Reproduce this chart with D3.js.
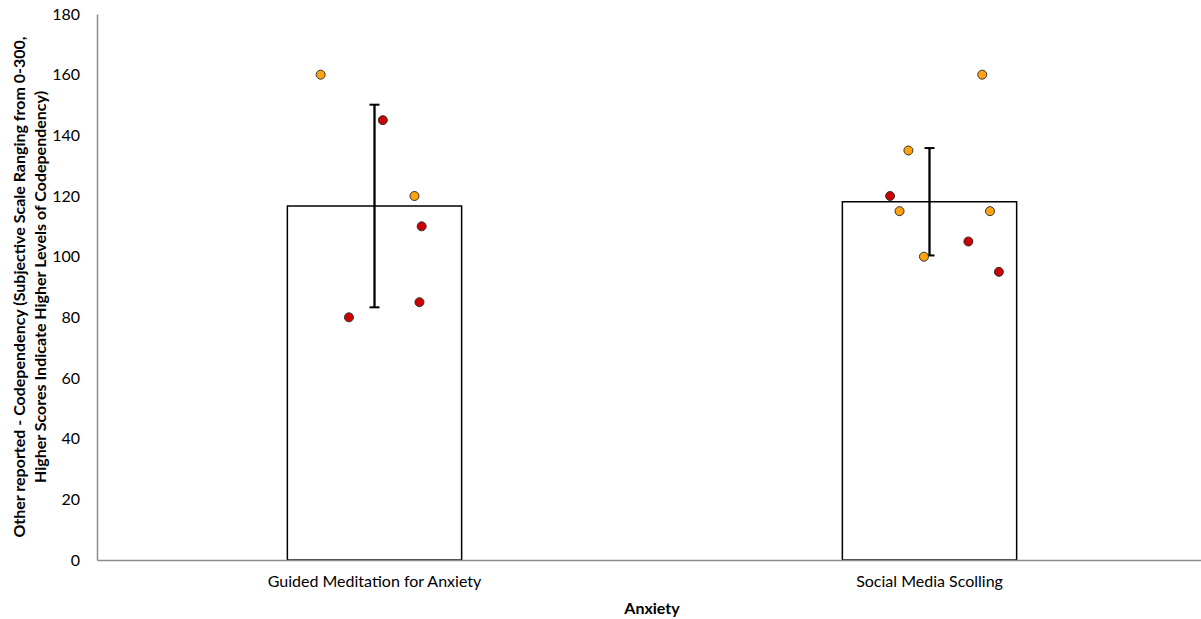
<!DOCTYPE html>
<html>
<head>
<meta charset="utf-8">
<script src="https://cdn.jsdelivr.net/npm/d3@7"></script>
<style>
  html, body { margin: 0; padding: 0; background: #fff; }
  svg { display: block; font-family: Lato, "Open Sans", sans-serif; }
</style>
</head>
<body>
<svg id="chart" width="1201" height="619"></svg>
<script>
// Conditions (x categories)
const categories = ["Guided Meditation for Anxiety", "Social Media Scolling"];
// Bar means and error half-widths
const means = [116.7, 118.1];
const errors = [33.4, 17.7];
// Individual participant scores per condition
const scoresMeditation = [160, 145, 120, 110, 85, 80];
const scoresScrolling = [160, 135, 120, 115, 115, 105, 100, 95];
// Point group (orange / red) per participant
const groupMeditation = ["a", "b", "a", "b", "b", "b"];
const groupScrolling = ["a", "a", "b", "a", "a", "b", "a", "b"];
// Horizontal jitter per point, as a fraction of the category band
const jitterMeditation = [-0.097, 0.015, 0.072, 0.085, 0.081, -0.046];
const jitterScrolling = [0.095, -0.038, -0.071, -0.054, 0.109, 0.070, -0.010, 0.125];
// Value axis ticks
const yTicks = [0, 20, 40, 60, 80, 100, 120, 140, 160, 180];

const svg = d3.select("#chart");
const plotLeft = 97, plotTop = 14, plotBottom = 560, plotRight = 1207;
const fontSize = 16;

const x = d3.scaleBand().domain(categories).range([plotLeft, plotRight])
  .paddingInner(0.686).paddingOuter(0.343);
const xCenter = d3.scaleBand().domain(categories).range([plotLeft, plotRight]).padding(0);
const y = d3.scaleLinear().domain([0, 180]).range([plotBottom, plotTop]);

const colour = d3.scaleOrdinal().domain(["a", "b"]).range(["#FFA20F", "#CC0000"]);

// Bars
svg.append("g").selectAll("rect").data(categories).join("rect")
  .attr("x", d => x(d))
  .attr("y", (d, i) => y(means[i]))
  .attr("width", x.bandwidth())
  .attr("height", (d, i) => y(0) - y(means[i]))
  .attr("fill", "#fff")
  .attr("stroke", "#000")
  .attr("stroke-width", 1.5);

// Error bars
const eb = svg.append("g").attr("stroke", "#000").attr("stroke-width", 2.3);
categories.forEach((c, i) => {
  const cx = xCenter(c) + xCenter.bandwidth() / 2;
  eb.append("line").attr("x1", cx).attr("x2", cx)
    .attr("y1", y(means[i] + errors[i])).attr("y2", y(means[i] - errors[i]));
  [means[i] + errors[i], means[i] - errors[i]].forEach(v => {
    eb.append("line").attr("x1", cx - 5).attr("x2", cx + 5)
      .attr("y1", y(v)).attr("y2", y(v)).attr("stroke-width", 2);
  });
});

// Axes
const yAxis = svg.append("g").attr("transform", `translate(${plotLeft},0)`)
  .call(d3.axisLeft(y).tickValues(yTicks).tickSize(0).tickPadding(17));
yAxis.select(".domain").attr("stroke", "#8c8c8c").attr("stroke-width", 1.5);
yAxis.selectAll("text").attr("font-size", fontSize).attr("fill", "#000")
  .attr("font-family", "Lato, sans-serif");

const xAxis = svg.append("g").attr("transform", `translate(0,${plotBottom})`)
  .call(d3.axisBottom(xCenter).tickSize(0).tickPadding(16));
xAxis.select(".domain").attr("stroke", "#8c8c8c").attr("stroke-width", 1.5);
xAxis.selectAll("text").attr("font-size", fontSize).attr("fill", "#000")
  .attr("font-family", "Lato, sans-serif");

// Points
const points = [
  { cat: categories[0], vals: scoresMeditation, grp: groupMeditation, jit: jitterMeditation },
  { cat: categories[1], vals: scoresScrolling, grp: groupScrolling, jit: jitterScrolling }
];
const pg = svg.append("g");
points.forEach(p => {
  const cx = xCenter(p.cat) + xCenter.bandwidth() / 2;
  pg.selectAll(null).data(p.vals).join("circle")
    .attr("cx", (d, i) => cx + p.jit[i] * xCenter.bandwidth())
    .attr("cy", d => y(d))
    .attr("r", 4.5)
    .attr("fill", (d, i) => colour(p.grp[i]))
    .attr("stroke", "#333")
    .attr("stroke-width", 1);
});

// Axis titles
svg.append("text")
  .attr("x", (plotLeft + plotRight) / 2).attr("y", 614)
  .attr("text-anchor", "middle")
  .attr("font-size", fontSize).attr("font-weight", "bold")
  .text("Anxiety");

const yTitle = svg.append("text")
  .attr("transform", `translate(0,${(plotTop + plotBottom) / 2}) rotate(-90)`)
  .attr("text-anchor", "middle")
  .attr("font-size", fontSize).attr("font-weight", "bold");
yTitle.append("tspan").attr("x", 0).attr("y", 25)
  .text("Other reported - Codependency (Subjective Scale Ranging from 0-300,");
yTitle.append("tspan").attr("x", 0).attr("y", 46)
  .text("Higher Scores Indicate Higher Levels of Codependency)");
</script>
</body>
</html>
